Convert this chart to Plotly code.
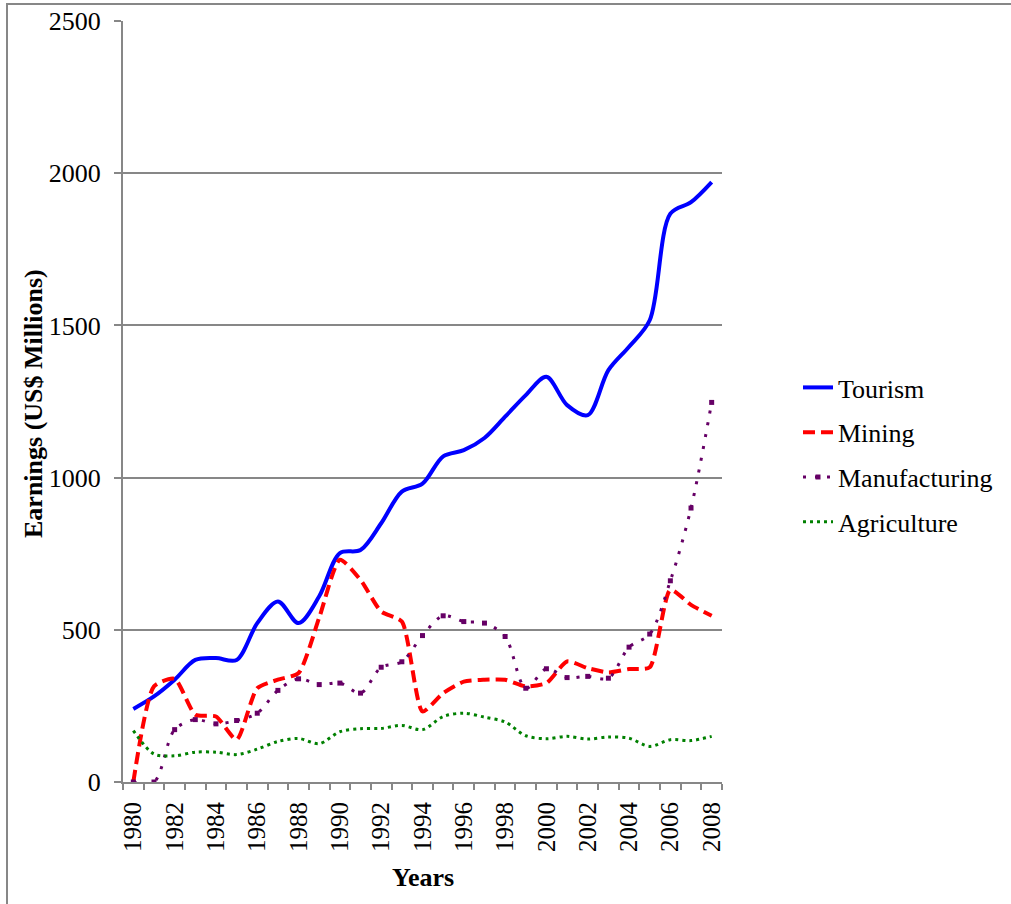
import plotly.graph_objects as go

years = list(range(1980, 2009))
tourism = [240, 281, 336, 401, 407, 401, 522, 593, 522, 610, 752, 762, 850, 954, 980,
           1070, 1090, 1130, 1200, 1271, 1331, 1238, 1205, 1353, 1430, 1517, 1867, 1905, 1971]
mining = [0, 314, 339, 221, 215, 139, 308, 336, 358, 540, 730, 664, 560, 527, 232,
          292, 330, 336, 336, 314, 325, 396, 374, 360, 371, 377, 631, 582, 546]
manufacturing = [0, 0, 172, 205, 191, 202, 226, 301, 339, 320, 325, 292, 377, 395, 481,
                 546, 527, 522, 478, 308, 372, 343, 347, 341, 443, 486, 661, 900, 1247]
agriculture = [169, 92, 86, 98, 98, 90, 108, 133, 143, 126, 165, 175, 176, 186, 172,
               215, 226, 213, 197, 152, 142, 150, 141, 148, 144, 117, 139, 136, 150]
tick_years = list(range(1980, 2009, 2))
y_ticks = [0, 500, 1000, 1500, 2000, 2500]

FONT = "Liberation Serif, Times New Roman, DejaVu Serif, serif"
GRID = "#878787"

fig = go.Figure()
fig.add_trace(go.Scatter(x=years, y=tourism, name="Tourism", mode="lines",
                         line=dict(color="#0000FF", width=4, shape="spline", smoothing=0.9),
                         legendgroup="a"))
fig.add_trace(go.Scatter(x=years, y=mining, name="Mining", mode="lines",
                         line=dict(color="#FF0000", width=4, dash="12px,6px", shape="spline", smoothing=0.6),
                         legendgroup="b"))
fig.add_trace(go.Scatter(x=years, y=manufacturing, name="Manufacturing", mode="lines+markers",
                         line=dict(color="#660066", width=3, dash="3px,9px", shape="spline", smoothing=0.9),
                         marker=dict(color="#660066", size=5, symbol="square"),
                         legendgroup="c"))
fig.add_trace(go.Scatter(x=years, y=agriculture, name="Agriculture", mode="lines",
                         line=dict(color="#008000", width=3, dash="3px,4px", shape="spline", smoothing=0.9),
                         legendgroup="d"))

L, R, T, B = 123, 289, 21, 122
W, H = 1011, 904
pw, ph = W - L - R, H - T - B

def px_x(p):
    return (p - L) / pw

def px_y(q):
    return (H - B - q) / ph

fig.update_layout(
    width=W, height=H,
    margin=dict(l=L, r=R, t=T, b=B, autoexpand=False),
    paper_bgcolor="white", plot_bgcolor="white",
    font=dict(family=FONT, color="black"),
    showlegend=True,
    legend=dict(x=px_x(798), y=px_y(364), xanchor="left", yanchor="top",
                font=dict(family=FONT, size=26, color="black"),
                tracegroupgap=8, bgcolor="rgba(0,0,0,0)"),
    xaxis=dict(range=[1979.5, 2008.5], tickvals=tick_years, ticktext=[str(v) for v in tick_years],
               tickangle=-90, ticks="", showgrid=False, zeroline=False,
               showline=True, linecolor=GRID, linewidth=2,
               tickfont=dict(family=FONT, size=25, color="black"),
               ticklabelstandoff=8,
               minor=dict(ticks="outside", tick0=1979.5, dtick=1, ticklen=6,
                          tickcolor=GRID, tickwidth=2, showgrid=False)),
    yaxis=dict(range=[0, 2500], tickvals=y_ticks, ticks="outside", ticklen=7, tickcolor=GRID,
               tickwidth=2, showgrid=True, gridcolor=GRID, gridwidth=2, zeroline=False,
               showline=True, linecolor=GRID, linewidth=2,
               tickfont=dict(family=FONT, size=26, color="black"),
               ticklabelstandoff=8),
    annotations=[
        dict(text="<b>Earnings (US$ Millions)</b>", xref="paper", yref="paper",
             x=px_x(33), y=px_y(404), xanchor="center", yanchor="middle", textangle=-90,
             showarrow=False, font=dict(family=FONT, size=26, color="black")),
        dict(text="<b>Years</b>", xref="paper", yref="paper",
             x=px_x(423), y=px_y(877), xanchor="center", yanchor="middle",
             showarrow=False, font=dict(family=FONT, size=26, color="black")),
    ],
    shapes=[
        dict(type="rect", xref="paper", yref="paper",
             x0=px_x(7), x1=px_x(1030), y0=px_y(930), y1=px_y(4),
             line=dict(color=GRID, width=2), fillcolor="rgba(0,0,0,0)", layer="above"),
    ],
)

fig.write_html("out.html", config={"displayModeBar": False},
               post_script="document.body.style.margin='0px';document.body.style.overflow='hidden';")
